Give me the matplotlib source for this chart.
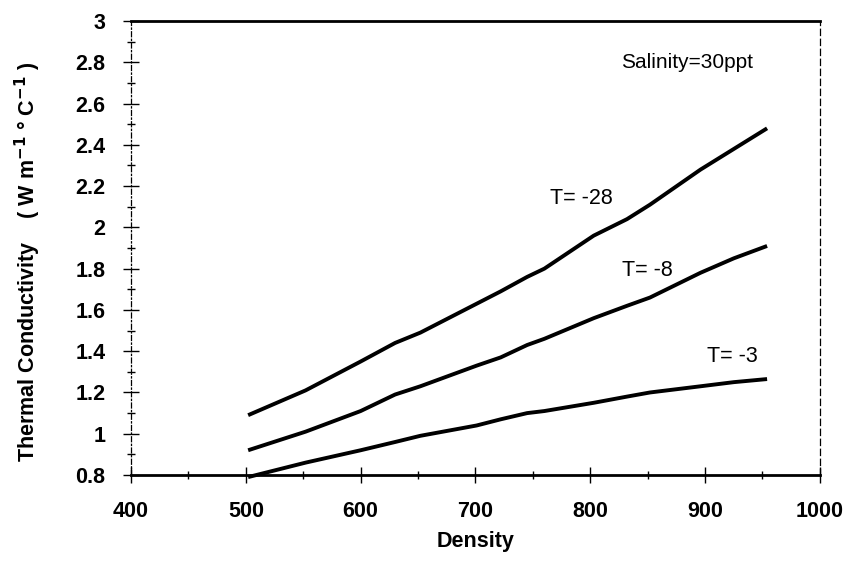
import matplotlib
matplotlib.use("Agg")
import matplotlib.pyplot as plt
from matplotlib.ticker import MultipleLocator

plt.rcParams['font.family'] = ['Liberation Sans', 'DejaVu Sans']

density = [502, 552, 600, 630, 652, 701, 722, 745, 760, 803, 832, 852, 896, 925, 954]
t28 = [1.09, 1.21, 1.35, 1.44, 1.49, 1.63, 1.69, 1.76, 1.80, 1.96, 2.04, 2.11, 2.28, 2.38, 2.48]
t8 = [0.92, 1.01, 1.11, 1.19, 1.23, 1.33, 1.37, 1.43, 1.46, 1.56, 1.62, 1.66, 1.78, 1.85, 1.91]
t3 = [0.79, 0.86, 0.92, 0.96, 0.99, 1.04, 1.07, 1.10, 1.11, 1.15, 1.18, 1.20, 1.23, 1.25, 1.265]
series = [t28, t8, t3]
labels = ["T= -28", "T= -8", "T= -3"]
label_pos = [(765, 2.14), (828, 1.79), (902, 1.375)]

xticks = [400, 500, 600, 700, 800, 900, 1000]
yticks = [0.8, 1, 1.2, 1.4, 1.6, 1.8, 2, 2.2, 2.4, 2.6, 2.8, 3]
ytick_labels = ["0.8", "1", "1.2", "1.4", "1.6", "1.8", "2", "2.2", "2.4", "2.6", "2.8", "3"]

fig = plt.figure(figsize=(8.47, 5.68), dpi=100)
ax = fig.add_axes([0.1547, 0.1637, 0.968 - 0.1547, 0.963 - 0.1637])

for s in series:
    ax.plot(density, s, color='black', lw=2.8, solid_capstyle='butt',
            solid_joinstyle='round', clip_on=False)

for (x, y), t in zip(label_pos, labels):
    ax.text(x, y, t, fontsize=15.5, ha='left', va='center')
ax.text(827, 2.80, "Salinity=30ppt", fontsize=15, ha='left', va='center')

ax.set_xlim(400, 1000)
ax.set_ylim(0.8, 3)
ax.set_xticks(xticks)
ax.set_xticklabels([str(v) for v in xticks])
ax.set_yticks(yticks)
ax.set_yticklabels(ytick_labels)
ax.xaxis.set_minor_locator(MultipleLocator(50))
ax.yaxis.set_minor_locator(MultipleLocator(0.1))

ax.tick_params(axis='both', which='major', direction='inout', length=11, width=1.0,
               labelsize=15.5, pad=13)
ax.tick_params(axis='both', which='minor', direction='inout', length=6, width=1.0)
for lab in ax.get_xticklabels() + ax.get_yticklabels():
    lab.set_fontweight('bold')

ax.spines['top'].set_linewidth(2.0)
ax.spines['bottom'].set_linewidth(2.0)
ax.spines['left'].set_linewidth(0.9)
ax.spines['left'].set_linestyle((0, (4, 2, 1, 2)))
ax.spines['right'].set_linewidth(0.9)
ax.spines['right'].set_linestyle((0, (5, 3)))

ax.set_xlabel("Density", fontsize=15.5, fontweight='bold', labelpad=7)
ax.set_ylabel("Thermal Conductivity    ( W m$^{\\mathbf{-1}}$ ° C$^{\\mathbf{-1}}$ )",
              fontsize=15.5, fontweight='bold')
ax.yaxis.set_label_coords(-0.128, 0.47)

fig.savefig("out.png", dpi=100)
